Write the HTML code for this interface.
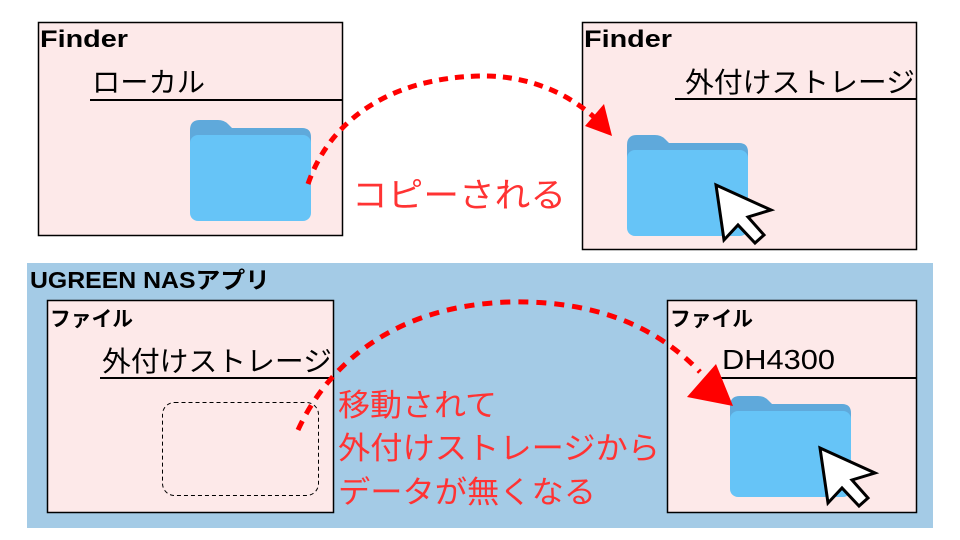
<!DOCTYPE html>
<html><head><meta charset="utf-8"><style>
html,body{margin:0;padding:0;background:#fff}
svg{display:block}
text{font-family:"Liberation Sans","Noto Sans CJK JP",sans-serif}
</style></head><body>
<svg width="960" height="540" viewBox="0 0 960 540" xmlns="http://www.w3.org/2000/svg">
<defs>
<g id="folder">
<path d="M0,10 Q0,0 10,0 L28,0 Q34,0 38,4 L42,8 L112,8 Q121,8 121,17 L121,30 L0,30 Z" fill="#5fa9db"/>
<rect x="0" y="15" width="121" height="86" rx="8" fill="#66c4f7"/>
</g>
<g id="cursor">
<path d="M0,0 L55,25 L32,32 L48,50 L39,58 L22,40 L8,55 Z" fill="#fff" stroke="#000" stroke-width="3" stroke-linejoin="miter"/>
</g>
</defs>

<!-- Box 1 -->
<rect x="38.5" y="22.5" width="304" height="213" fill="#fde9e9" stroke="#000" stroke-width="1.5"/>
<text x="40" y="47" font-size="24" font-weight="bold" textLength="88" lengthAdjust="spacingAndGlyphs">Finder</text>
<text x="92" y="92" font-size="28" textLength="113" lengthAdjust="spacingAndGlyphs">ローカル</text>
<line x1="90" y1="100" x2="342" y2="100" stroke="#000" stroke-width="2"/>
<use href="#folder" x="190" y="120"/>

<!-- Box 2 -->
<rect x="582.5" y="22.5" width="334" height="227" fill="#fde9e9" stroke="#000" stroke-width="1.5"/>
<text x="584" y="47" font-size="24" font-weight="bold" textLength="88" lengthAdjust="spacingAndGlyphs">Finder</text>
<text x="685" y="92" font-size="28" textLength="230" lengthAdjust="spacingAndGlyphs">外付けストレージ</text>
<line x1="675" y1="99" x2="916" y2="99" stroke="#000" stroke-width="2"/>
<use href="#folder" x="627" y="135"/>
<use href="#cursor" x="716" y="185"/>

<!-- Arrow 1 -->
<path d="M308,184 C330,120 390,78 480,76 C530,75 570,95 595,118" fill="none" stroke="#f00" stroke-width="5" stroke-dasharray="9,7"/>
<polygon points="612,136 585,126 604,104" fill="#f00"/>
<text x="352" y="207" font-size="34" fill="#f33" textLength="214" lengthAdjust="spacingAndGlyphs">コピーされる</text>

<!-- Blue panel -->
<rect x="27" y="263" width="906" height="265" fill="#a4cbe6"/>
<text x="30" y="288" font-size="23" font-weight="bold" textLength="240" lengthAdjust="spacingAndGlyphs">UGREEN NASアプリ</text>

<!-- Box 3 -->
<rect x="47.5" y="300.5" width="286" height="212" fill="#fde9e9" stroke="#000" stroke-width="1.5"/>
<text x="50" y="326" font-size="21" font-weight="bold" textLength="83" lengthAdjust="spacingAndGlyphs">ファイル</text>
<text x="102" y="371" font-size="28" textLength="230" lengthAdjust="spacingAndGlyphs">外付けストレージ</text>
<line x1="100" y1="378" x2="333" y2="378" stroke="#000" stroke-width="2"/>
<rect x="162.5" y="402.5" width="156" height="93" rx="12" fill="none" stroke="#000" stroke-width="1" stroke-dasharray="4,3"/>

<!-- Box 4 -->
<rect x="667.5" y="300.5" width="249" height="212" fill="#fde9e9" stroke="#000" stroke-width="1.5"/>
<text x="670" y="326" font-size="21" font-weight="bold" textLength="83" lengthAdjust="spacingAndGlyphs">ファイル</text>
<text x="722" y="369" font-size="28" textLength="113" lengthAdjust="spacingAndGlyphs">DH4300</text>
<line x1="720" y1="378" x2="916" y2="378" stroke="#000" stroke-width="2"/>
<use href="#folder" x="730" y="396"/>
<use href="#cursor" x="820" y="448"/>

<!-- Arrow 2 -->
<path d="M298,430 C330,360 400,305 510,302 C600,300 660,330 700,372" fill="none" stroke="#f00" stroke-width="5" stroke-dasharray="10,8"/>
<polygon points="733,406 687,397 716,364" fill="#f00"/>
<text font-size="31" fill="#f33"><tspan x="338" y="416" textLength="159" lengthAdjust="spacingAndGlyphs">移動されて</tspan></text>
<text font-size="31" fill="#f33"><tspan x="338" y="459" textLength="322" lengthAdjust="spacingAndGlyphs">外付けストレージから</tspan></text>
<text font-size="31" fill="#f33"><tspan x="338" y="503" textLength="258" lengthAdjust="spacingAndGlyphs">データが無くなる</tspan></text>
</svg>
</body></html>
